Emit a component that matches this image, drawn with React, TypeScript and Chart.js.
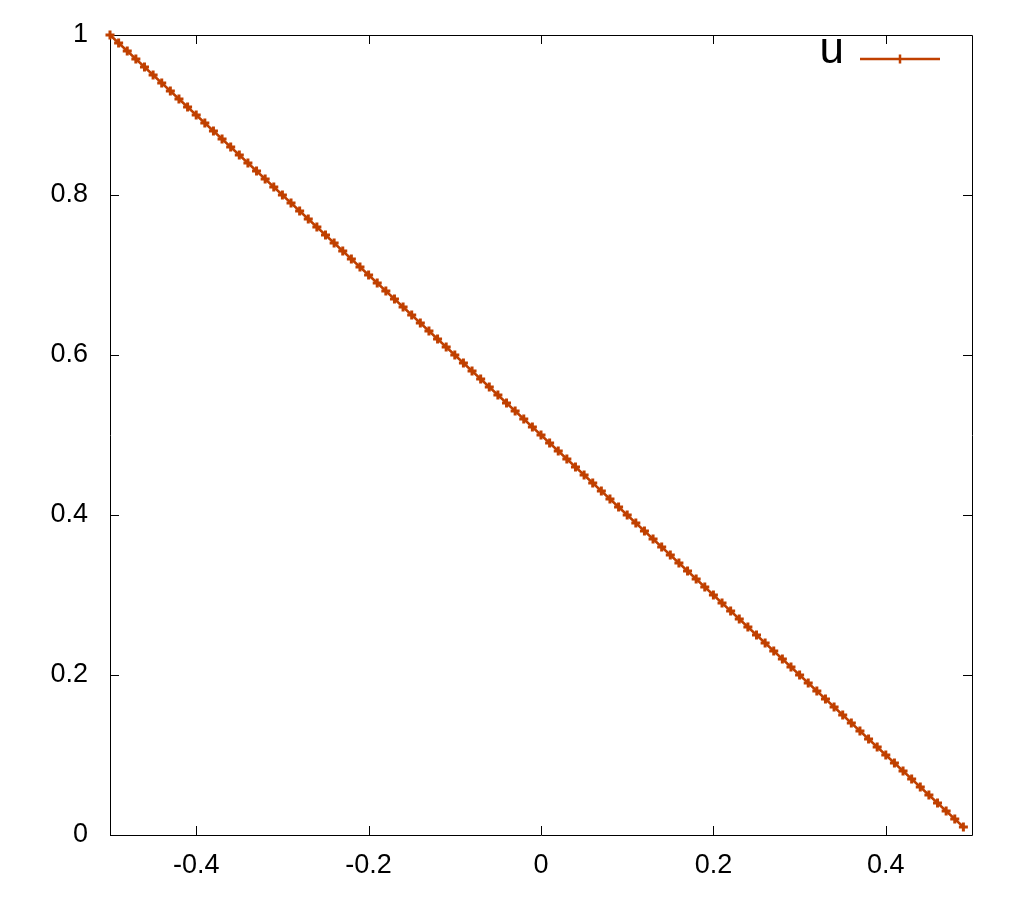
import React, { useEffect, useRef } from "react";
import { Chart, registerables } from "chart.js";

Chart.register(...registerables);

const xValues = [
  -0.5, -0.49, -0.48, -0.47, -0.46, -0.45, -0.44, -0.43, -0.42, -0.41,
  -0.4, -0.39, -0.38, -0.37, -0.36, -0.35, -0.34, -0.33, -0.32, -0.31,
  -0.3, -0.29, -0.28, -0.27, -0.26, -0.25, -0.24, -0.23, -0.22, -0.21,
  -0.2, -0.19, -0.18, -0.17, -0.16, -0.15, -0.14, -0.13, -0.12, -0.11,
  -0.1, -0.09, -0.08, -0.07, -0.06, -0.05, -0.04, -0.03, -0.02, -0.01,
  0.0, 0.01, 0.02, 0.03, 0.04, 0.05, 0.06, 0.07, 0.08, 0.09,
  0.1, 0.11, 0.12, 0.13, 0.14, 0.15, 0.16, 0.17, 0.18, 0.19,
  0.2, 0.21, 0.22, 0.23, 0.24, 0.25, 0.26, 0.27, 0.28, 0.29,
  0.3, 0.31, 0.32, 0.33, 0.34, 0.35, 0.36, 0.37, 0.38, 0.39,
  0.4, 0.41, 0.42, 0.43, 0.44, 0.45, 0.46, 0.47, 0.48, 0.49,
];

const uValues = [
  1.0, 0.99, 0.98, 0.97, 0.96, 0.95, 0.94, 0.93, 0.92, 0.91,
  0.9, 0.89, 0.88, 0.87, 0.86, 0.85, 0.84, 0.83, 0.82, 0.81,
  0.8, 0.79, 0.78, 0.77, 0.76, 0.75, 0.74, 0.73, 0.72, 0.71,
  0.7, 0.69, 0.68, 0.67, 0.66, 0.65, 0.64, 0.63, 0.62, 0.61,
  0.6, 0.59, 0.58, 0.57, 0.56, 0.55, 0.54, 0.53, 0.52, 0.51,
  0.5, 0.49, 0.48, 0.47, 0.46, 0.45, 0.44, 0.43, 0.42, 0.41,
  0.4, 0.39, 0.38, 0.37, 0.36, 0.35, 0.34, 0.33, 0.32, 0.31,
  0.3, 0.29, 0.28, 0.27, 0.26, 0.25, 0.24, 0.23, 0.22, 0.21,
  0.2, 0.19, 0.18, 0.17, 0.16, 0.15, 0.14, 0.13, 0.12, 0.11,
  0.1, 0.09, 0.08, 0.07, 0.06, 0.05, 0.04, 0.03, 0.02, 0.01,
];

const xTickValues = [-0.4, -0.2, 0, 0.2, 0.4];
const yTickValues = [0, 0.2, 0.4, 0.6, 0.8, 1];
const seriesLabel = "u";

const LINE_COLOR = "#c04000";
const FONT = "'Liberation Sans', Arial, sans-serif";

const fmt = (v: number) => String(Math.round(v * 10) / 10);

const framePlugin = {
  id: "gnuFrame",
  beforeDatasetsDraw(chart: any) {
    const { ctx, chartArea: a, scales } = chart;
    ctx.save();
    ctx.strokeStyle = "#000";
    ctx.lineWidth = 1;
    ctx.beginPath();
    ctx.rect(a.left + 0.5, a.top + 0.5, a.right - a.left, a.bottom - a.top);
    const tl = 9;
    for (const v of xTickValues) {
      const px = Math.round(scales.x.getPixelForValue(v)) + 0.5;
      ctx.moveTo(px, a.bottom);
      ctx.lineTo(px, a.bottom - tl);
      ctx.moveTo(px, a.top);
      ctx.lineTo(px, a.top + tl);
    }
    for (const v of yTickValues) {
      const py = Math.round(scales.y.getPixelForValue(v)) + 0.5;
      ctx.moveTo(a.left, py);
      ctx.lineTo(a.left + tl, py);
      ctx.moveTo(a.right, py);
      ctx.lineTo(a.right - tl, py);
    }
    ctx.stroke();
    ctx.restore();
  },
  afterDraw(chart: any) {
    const { ctx, chartArea: a } = chart;
    ctx.save();
    ctx.fillStyle = "#000";
    ctx.font = `44px ${FONT}`;
    ctx.textAlign = "right";
    ctx.textBaseline = "alphabetic";
    const ky = a.top + 24;
    ctx.fillText(seriesLabel, a.right - 128, ky + 4);
    ctx.strokeStyle = LINE_COLOR;
    ctx.lineWidth = 2.5;
    ctx.beginPath();
    const x0 = a.right - 112;
    const x1 = a.right - 32;
    ctx.moveTo(x0, ky);
    ctx.lineTo(x1, ky);
    const cx = (x0 + x1) / 2;
    ctx.moveTo(cx, ky - 4.5);
    ctx.lineTo(cx, ky + 4.5);
    ctx.moveTo(cx - 4.5, ky);
    ctx.lineTo(cx + 4.5, ky);
    ctx.stroke();
    ctx.restore();
  },
};

export default function App() {
  const ref = useRef<HTMLCanvasElement | null>(null);
  useEffect(() => {
    if (!ref.current) return;
    const data = xValues.map((x, i) => ({ x, y: uValues[i] }));
    const chart = new Chart(ref.current, {
      type: "line",
      data: {
        datasets: [
          {
            label: seriesLabel,
            data,
            borderColor: LINE_COLOR,
            backgroundColor: LINE_COLOR,
            borderWidth: 2.5,
            pointStyle: "cross",
            pointRadius: 4.5,
            pointBorderWidth: 3,
            pointBorderColor: LINE_COLOR,
            fill: false,
            tension: 0,
            clip: false as any,
          },
        ],
      },
      options: {
        responsive: false,
        animation: false,
        layout: { autoPadding: false, padding: { left: 0, top: 35, right: 52, bottom: 0 } },
        plugins: {
          legend: { display: false },
          tooltip: { enabled: false },
          title: { display: false },
        },
        scales: {
          x: {
            type: "linear",
            min: -0.5,
            max: 0.5,
            grid: { display: false, drawTicks: false, tickLength: 0 },
            border: { display: false },
            afterBuildTicks: (s: any) => {
              s.ticks = xTickValues.map((v) => ({ value: v }));
            },
            afterFit: (s: any) => {
              s.height = 65;
              s.paddingLeft = 0;
              s.paddingRight = 0;
            },
            ticks: {
              autoSkip: false,
              maxRotation: 0,
              padding: 14,
              color: "#000",
              font: { family: FONT, size: 27 },
              callback: (v: any) => fmt(Number(v)),
            },
          },
          y: {
            type: "linear",
            min: 0,
            max: 1,
            grid: { display: false, drawTicks: false, tickLength: 0 },
            border: { display: false },
            afterBuildTicks: (s: any) => {
              s.ticks = yTickValues.map((v) => ({ value: v }));
            },
            afterFit: (s: any) => {
              s.width = 110;
              s.paddingTop = 0;
              s.paddingBottom = 0;
            },
            ticks: {
              autoSkip: false,
              padding: 22,
              color: "#000",
              font: { family: FONT, size: 27 },
              callback: (v: any) => fmt(Number(v)),
            },
          },
        },
      },
      plugins: [framePlugin],
    });
    return () => chart.destroy();
  }, []);
  return (
    <div style={{ position: "absolute", left: 0, top: 0, width: 1024, height: 900, background: "#fff" }}>
      <canvas ref={ref} width={1024} height={900} style={{ display: "block" }} />
    </div>
  );
}
